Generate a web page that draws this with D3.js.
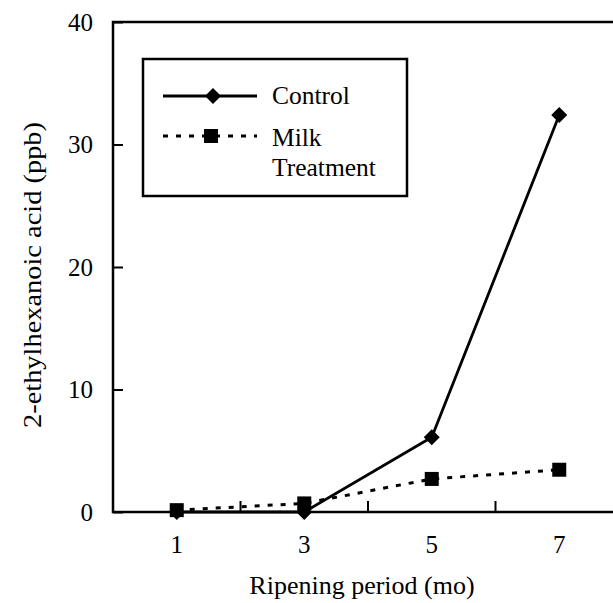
<!DOCTYPE html>
<html>
<head>
<meta charset="utf-8">
<script src="https://cdn.jsdelivr.net/npm/d3@7"></script>
<style>
  html, body { margin: 0; padding: 0; background: #fff; }
  svg { display: block; }
  svg text { font-family: 'Liberation Serif', Tinos, 'Times New Roman', Times, 'DejaVu Serif', serif; fill: #000; }
</style>
</head>
<body>
<svg id="chart" width="613" height="603" font-family="'Liberation Serif', 'Times New Roman', 'DejaVu Serif', serif"></svg>
<script>
// ---- data ----
const categories = ["1", "3", "5", "7"];
const controlValues = [0, 0, 6.1, 32.4];
const milkValues = [0.15, 0.7, 2.7, 3.45];
const yTicks = [0, 10, 20, 30, 40];
const seriesNames = ["Control", "Milk Treatment"];
const xTitle = "Ripening period (mo)";
const yTitle = "2-ethylhexanoic acid (ppb)";

(function () {
const FONT = "'Liberation Serif', 'Times New Roman', 'DejaVu Serif', serif";
const svg = d3.select("#chart");
const pL = 113, pT = 22, pR = 623, pB = 512;

const x = d3.scaleBand().domain(categories).range([pL, pR]);
const y = d3.scaleLinear().domain([0, 40]).range([pB, pT]);

svg.append("rect")
  .attr("x", pL).attr("y", pT)
  .attr("width", pR - pL).attr("height", pB - pT)
  .attr("fill", "none").attr("stroke", "#000").attr("stroke-width", 2.5);

const yAxis = d3.axisRight(y).tickValues(yTicks).tickSize(10).tickFormat("");
const gy = svg.append("g").attr("transform", `translate(${pL},0)`).call(yAxis);
gy.select(".domain").remove();
gy.selectAll(".tick line").attr("stroke", "#000").attr("stroke-width", 2);

svg.append("g").selectAll("text").data(yTicks).join("text")
  .attr("x", 93).attr("y", d => y(d))
  .attr("dy", "0.35em")
  .attr("text-anchor", "end")
  .attr("font-family", FONT)
  .attr("font-size", 25)
  .text(d => d);

const boundaries = categories.slice(1).map(c => x(c));
svg.append("g").selectAll("line").data(boundaries).join("line")
  .attr("x1", d => d).attr("x2", d => d)
  .attr("y1", pB).attr("y2", pB - 11)
  .attr("stroke", "#000").attr("stroke-width", 2);

svg.append("g").selectAll("text").data(categories).join("text")
  .attr("x", d => x(d) + x.bandwidth() / 2)
  .attr("y", 553)
  .attr("text-anchor", "middle")
  .attr("font-family", FONT)
  .attr("font-size", 25)
  .text(d => d);

svg.append("text")
  .attr("x", 362).attr("y", 594)
  .attr("text-anchor", "middle")
  .attr("font-family", FONT)
  .attr("font-size", 26)
  .text(xTitle);

svg.append("text")
  .attr("transform", "translate(41,275) rotate(-90)")
  .attr("text-anchor", "middle")
  .attr("font-family", FONT)
  .attr("font-size", 25)
  .attr("textLength", 306)
  .attr("lengthAdjust", "spacingAndGlyphs")
  .text(yTitle);

const cx = c => x(c) + x.bandwidth() / 2;
const line = d3.line().x(d => cx(d.c)).y(d => y(d.v));
const controlData = categories.map((c, i) => ({ c, v: controlValues[i] }));
const milkData = categories.map((c, i) => ({ c, v: milkValues[i] }));

const diamond = s => `M0,${-s}L${s},0L0,${s}L${-s},0Z`;

svg.append("path").datum(controlData)
  .attr("d", line).attr("fill", "none")
  .attr("stroke", "#000").attr("stroke-width", 2.8);
svg.append("g").selectAll("path").data(controlData).join("path")
  .attr("transform", d => `translate(${cx(d.c)},${y(d.v)})`)
  .attr("d", diamond(8)).attr("fill", "#000");

svg.append("path").datum(milkData)
  .attr("d", line).attr("fill", "none")
  .attr("stroke", "#000").attr("stroke-width", 3)
  .attr("stroke-dasharray", "5,8");
svg.append("g").selectAll("rect").data(milkData).join("rect")
  .attr("x", d => cx(d.c) - 7).attr("y", d => y(d.v) - 7)
  .attr("width", 14).attr("height", 14).attr("fill", "#000");

const lg = svg.append("g");
lg.append("rect")
  .attr("x", 143).attr("y", 59).attr("width", 264).attr("height", 137)
  .attr("fill", "#fff").attr("stroke", "#000").attr("stroke-width", 2.5);

lg.append("line").attr("x1", 163).attr("x2", 257).attr("y1", 96).attr("y2", 96)
  .attr("stroke", "#000").attr("stroke-width", 2.8);
lg.append("path").attr("transform", "translate(213,96)").attr("d", diamond(8)).attr("fill", "#000");
lg.append("text").attr("x", 272).attr("y", 104).attr("font-family", FONT).attr("font-size", 25.5).text(seriesNames[0]);

lg.append("line").attr("x1", 163).attr("x2", 257).attr("y1", 136).attr("y2", 136)
  .attr("stroke", "#000").attr("stroke-width", 3).attr("stroke-dasharray", "5,8");
lg.append("rect").attr("x", 204).attr("y", 129).attr("width", 14).attr("height", 14).attr("fill", "#000");
const words = seriesNames[1].split(" ");
lg.append("text").attr("x", 272).attr("y", 146).attr("font-family", FONT).attr("font-size", 25.5).text(words[0]);
lg.append("text").attr("x", 272).attr("y", 176).attr("font-family", FONT).attr("font-size", 25.5).text(words[1]);
})();
</script>
</body>
</html>
